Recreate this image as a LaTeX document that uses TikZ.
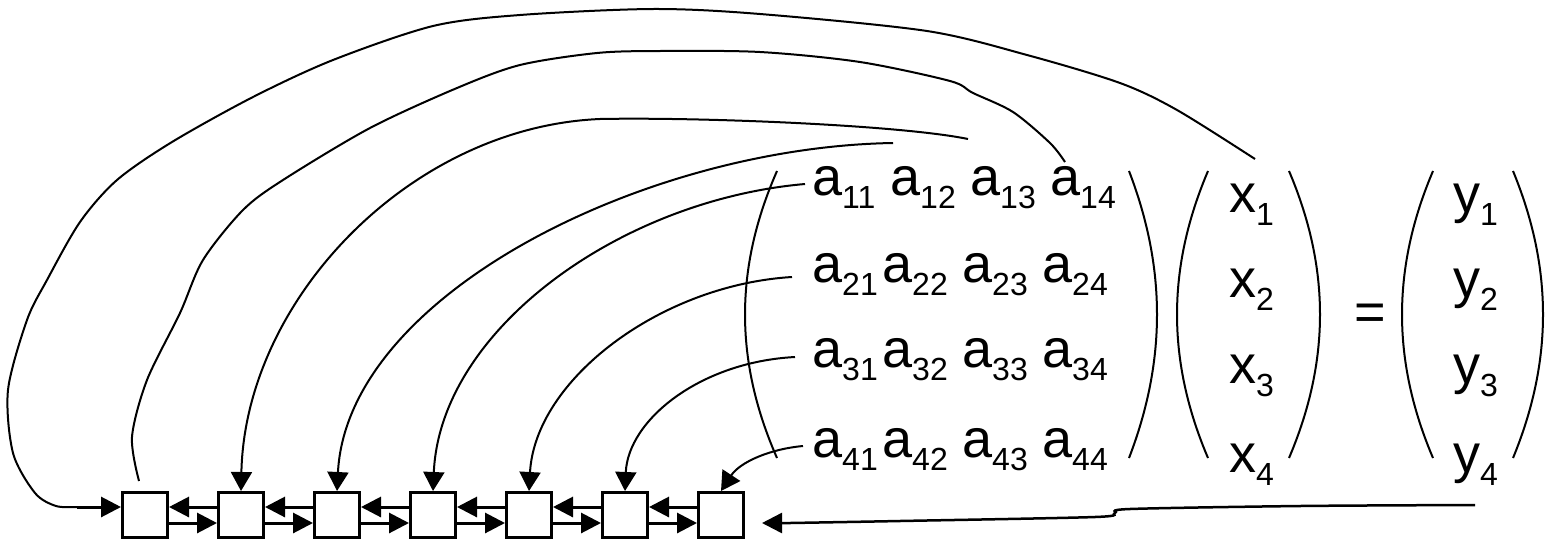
\documentclass[tikz,border=0pt]{standalone}
\usepackage{fontspec}
\setmainfont{Liberation Sans}
\usetikzlibrary{arrows.meta}
\newcommand{\mysub}[1]{\raisebox{-13pt}{\fontsize{32}{32}\selectfont #1}}
\begin{document}
\begin{tikzpicture}[x=1pt,y=-1pt,
  box/.style={draw, line width=3pt, minimum size=45pt, inner sep=0pt},
  bar/.style={line width=3pt, -{Triangle[length=20pt,width=20pt]}},
  link/.style={line width=2pt},
  tip/.style={-{Triangle[length=19pt,width=21pt]}},
  paren/.style={line width=2pt},
  txt/.style={anchor=base west, inner sep=0pt, font=\fontsize{54}{60}\selectfont}]
\useasboundingbox (0,0) rectangle (1546,541);

% boxes
\foreach \i in {1,...,7} \node[box] (b\i) at ({145+96*(\i-1)},515) {};
\foreach \i [evaluate=\i as \j using int(\i+1)] in {1,...,6} {
  \draw[bar] ([yshift=8pt]b\j.west) -- ([yshift=8pt]b\i.east);
  \draw[bar] ([yshift=-8pt]b\i.east) -- ([yshift=-8pt]b\j.west);
}

% matrix entries
\node[txt] (a11) at (812,195) {a\mysub{11}};
\node[txt] (a12) at (890,195) {a\mysub{12}};
\node[txt] (a13) at (970,195) {a\mysub{13}};
\node[txt] (a14) at (1050,195) {a\mysub{14}};
\node[txt] (a21) at (812,282) {a\mysub{21}};
\node[txt] (a22) at (882,282) {a\mysub{22}};
\node[txt] (a23) at (962,282) {a\mysub{23}};
\node[txt] (a24) at (1042,282) {a\mysub{24}};
\node[txt] (a31) at (812,367) {a\mysub{31}};
\node[txt] (a32) at (882,367) {a\mysub{32}};
\node[txt] (a33) at (962,367) {a\mysub{33}};
\node[txt] (a34) at (1042,367) {a\mysub{34}};
\node[txt] (a41) at (812,457) {a\mysub{41}};
\node[txt] (a42) at (882,457) {a\mysub{42}};
\node[txt] (a43) at (962,457) {a\mysub{43}};
\node[txt] (a44) at (1042,457) {a\mysub{44}};

\node[txt] (x1) at (1229,212) {x\mysub{1}};
\node[txt] (x2) at (1229,297) {x\mysub{2}};
\node[txt] (x3) at (1229,383) {x\mysub{3}};
\node[txt] (x4) at (1229,472) {x\mysub{4}};
\node[txt] (y1) at (1453,212) {y\mysub{1}};
\node[txt] (y2) at (1453,297) {y\mysub{2}};
\node[txt] (y3) at (1453,383) {y\mysub{3}};
\node[txt] (y4) at (1453,472) {y\mysub{4}};
\node[txt, anchor=base] (eq) at (1370,330) {=};

% parentheses
\foreach \x/\d in {777/-32, 1129/28, 1208/-31, 1289/31, 1433/-31, 1513/30}
  \draw[paren] (\x,171) .. controls ({\x+1.333*\d},268) and ({\x+1.333*\d},361) .. (\x,458);

% start / end points of the connectors
\coordinate (sA) at (1255,159);
\coordinate (eA) at (77,507);
\coordinate (sB) at (1065,162);
\coordinate (eB) at (139,481);
\coordinate (sC) at (968,139);
\coordinate (mC) at (600,119);
\coordinate (sD) at (893,143);
\coordinate (sE) at (805,184);
\coordinate (sF) at (792,277);
\coordinate (sG) at (795,357);
\coordinate (sH) at (803,446);
\coordinate (sR) at (1475,505);
\coordinate (eR) at (762,523);

% curve A : x1 -> box 1 (from the left)
\draw[link] plot[smooth] coordinates {(sA) (1177,110) (1120,83) (1027,55) (927,31) (760,14) (653,9) (520,15) (433,26) (333,60) (253,97) (172,142) (117,180) (80,222) (47,280) (27,320) (8,390) (13,453) (35,493) (56,506) (eA)};
\draw[bar] (eA) -- ([yshift=8pt]b1.west);
% curve B : a14 -> above box 1
\draw[link] plot[smooth] coordinates {(sB) (1050,143) (1013,112) (973,93) (950,81) (860,62) (760,52) (660,51) (597,53) (520,65) (457,88) (370,128) (283,180) (243,210) (203,260) (180,313) (147,380) (132,437) (eB)};
% curve C
\draw[link,tip] (sC) .. controls (900,125) and (700,117) .. (mC)
  .. controls (410,127) and (245,300) .. (b2.north);
% curve D
\draw[link,tip] (sD) .. controls (645,147) and (347,295) .. (b3.north);
% curve E
\draw[link,tip] (sE) .. controls (620,200) and (440,330) .. (b4.north);
% curve F
\draw[link,tip] (sF) .. controls (660,285) and (535,380) .. (b5.north);
% curve G
\draw[link,tip] (sG) .. controls (700,362) and (628,420) .. (b6.north);
% curve H
\draw[link,tip] (sH) .. controls (770,449) and (740,462) .. (b7.north);
% bottom arrow
\draw[line width=2.5pt, -{Triangle[length=20pt,width=20pt]}] plot[smooth] coordinates {(sR) (1300,506) (1130,509) (1115,513) (1095,517) (900,521) (790,523)} -- (eR);
\end{tikzpicture}
\end{document}
